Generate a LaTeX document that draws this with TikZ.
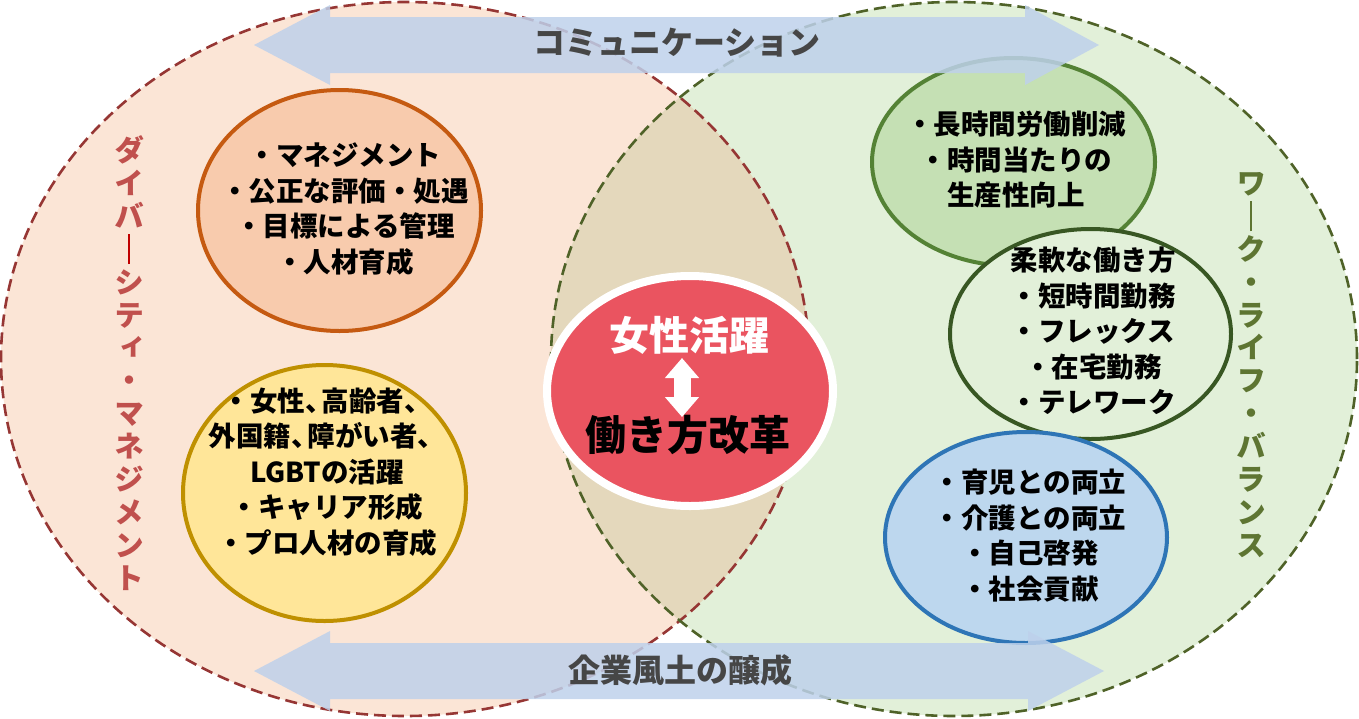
\documentclass[tikz,border=0pt]{standalone}
\usepackage{fontspec}
\setmainfont{Noto Sans CJK JP}
\newfontfamily\vfont[RawFeature=+vert]{Noto Sans CJK JP}
\usetikzlibrary{shapes.geometric,arrows.meta}
\definecolor{leftF}{HTML}{FBE5D6}
\definecolor{rightF}{HTML}{E2F0D9}
\definecolor{overF}{HTML}{E4D8BC}
\definecolor{leftB}{HTML}{963634}
\definecolor{rightB}{HTML}{4F6228}
\definecolor{arrowF}{HTML}{BED1EB}
\definecolor{labelG}{HTML}{464646}
\definecolor{orangeF}{HTML}{F8CBAD}
\definecolor{orangeB}{HTML}{C55A11}
\definecolor{yellowF}{HTML}{FFE699}
\definecolor{yellowB}{HTML}{BF9000}
\definecolor{greenAF}{HTML}{C5E0B4}
\definecolor{greenAB}{HTML}{548235}
\definecolor{greenBF}{HTML}{E2F0D9}
\definecolor{greenBB}{HTML}{385723}
\definecolor{blueF}{HTML}{BDD7EE}
\definecolor{blueB}{HTML}{2E75B6}
\definecolor{redF}{HTML}{EA5460}
\definecolor{vleft}{HTML}{C0504D}
\definecolor{vleftbar}{HTML}{C00000}
\definecolor{vright}{HTML}{5E7532}
\newcommand{\vbar}[1]{\textcolor{#1}{\rule[-4pt]{2.6pt}{30pt}}}
\newcommand{\tc}{、\hspace{-0.4em}}
\begin{document}
\begin{tikzpicture}[x=1pt,y=-1pt,
  venn/.style={line width=2.6pt, dash pattern=on 12pt off 6pt},
  bub/.style={ellipse, inner sep=0pt, line width=4pt},
  txt/.style={font=\bfseries\fontsize{27.5}{35.5}\selectfont, align=center, inner sep=0pt},
  vtxt/.style={font=\vfont\bfseries\fontsize{30}{32.9}\selectfont, align=center, inner sep=0pt},
  arrshape/.style={fill=arrowF, fill opacity=0.85},
  arrlabel/.style={font=\bfseries\fontsize{32}{32}\selectfont, text=labelG, inner sep=0pt}]
\useasboundingbox (0,0) rectangle (1359,718);
% Venn regions
\fill[leftF] (405,359) ellipse [x radius=404pt, y radius=357pt];
\fill[rightF] (954,359) ellipse [x radius=403pt, y radius=357pt];
\begin{scope}
  \clip (405,359) ellipse [x radius=404pt, y radius=357pt];
  \fill[overF] (954,359) ellipse [x radius=403pt, y radius=357pt];
\end{scope}
\draw[venn, leftB] (405,359) ellipse [x radius=404pt, y radius=357pt];
\draw[venn, rightB] (954,359) ellipse [x radius=403pt, y radius=357pt];
% bubbles
\node[bub, draw=orangeB, fill=orangeF, minimum width=283pt, minimum height=241pt] (orb) at (339.5,210.5) {};
\node[bub, draw=yellowB, fill=yellowF, minimum width=283pt, minimum height=256pt] (yeb) at (324.5,493) {};
\node[bub, draw=greenAB, fill=greenAF, minimum width=283pt, minimum height=208pt] (gab) at (1013.5,162) {};
\node[bub, draw=greenBB, fill=greenBF, minimum width=281pt, minimum height=210pt] (gbb) at (1090.5,334) {};
\node[bub, draw=blueB, fill=blueF, minimum width=282pt, minimum height=211pt] (blb) at (1026,537.5) {};
\node[ellipse, inner sep=0pt, line width=8pt, draw=white, fill=redF, minimum width=286pt, minimum height=230pt] (ctr) at (690,391) {};
% bubble texts
\node[txt] (ort) at (345,209) {・マネジメント\\・公正な評価・処遇\\・目標による管理\\・人材育成};
\node[txt] (yet) at (327,472) {・女性\tc 高齢者、\\外国籍\tc 障がい者、\\LGBTの活躍\\・キャリア形成\\・プロ人材の育成};
\node[txt] (gat) at (1016,160) {・長時間労働削減\\・時間当たりの\\生産性向上};
\node[txt] (gbt) at (1093,331) {柔軟な働き方\\・短時間勤務\\・フレックス\\・在宅勤務\\・テレワーク};
\node[txt] (blt) at (1030,535.5) {・育児との両立\\・介護との両立\\・自己啓発\\・社会貢献};
% center
\node[font=\bfseries\fontsize{40}{40}\selectfont, text=white, inner sep=0pt] (w1) at (689.5,335) {女性活躍};
\node[font=\bfseries\fontsize{41}{41}\selectfont, text=black, inner sep=0pt] (w2) at (687.5,435) {働き方改革};
\coordinate (aT) at (682,358);
\coordinate (aB) at (682,417);
\draw[white, line width=17pt, {Triangle[width=33pt,length=20pt]}-{Triangle[width=33pt,length=20pt]}] (aT) -- (aB);
% vertical labels
\node[vtxt, text=vleft] (vl) at (129,363) {ダ\\イ\\バ\\\vbar{vleftbar}\\シ\\テ\\ィ\\・\\マ\\ネ\\ジ\\メ\\ン\\ト};
\node[vtxt, text=vright] (vr) at (1251,365) {ワ\\\vbar{vright}\\ク\\・\\ラ\\イ\\フ\\・\\バ\\ラ\\ン\\ス};
% arrows
\fill[arrshape] (254,45) -- (330,5) -- (330,17) -- (1025,17) -- (1025,5) -- (1099,45) -- (1025,85) -- (1025,73) -- (330,73) -- (330,85) -- cycle;
\fill[arrshape] (254,671) -- (330,631) -- (330,643) -- (1028,643) -- (1028,631) -- (1104,671) -- (1028,711) -- (1028,699) -- (330,699) -- (330,711) -- cycle;
\node[arrlabel] (comm) at (677,43) {コミュニケーション};
\node[arrlabel] (cult) at (680,670) {企業風土の醸成};
\end{tikzpicture}
\end{document}
